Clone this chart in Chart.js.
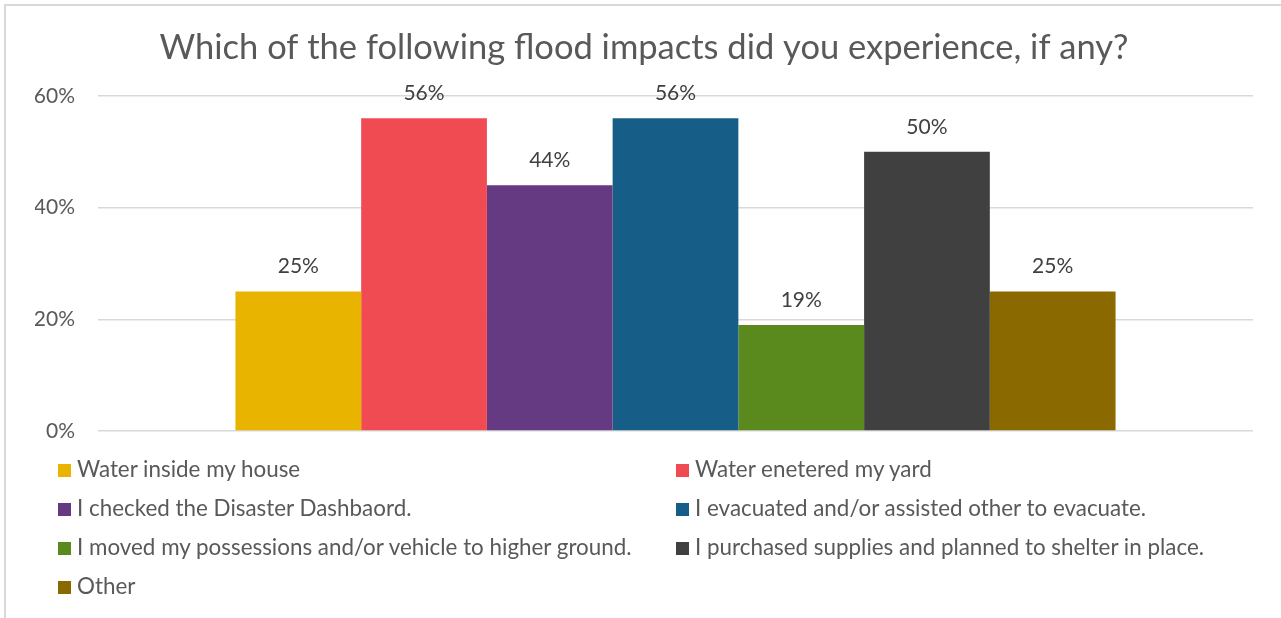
<!DOCTYPE html>
<html>
<head>
<meta charset="utf-8">
<script src="https://cdn.jsdelivr.net/npm/chart.js@4/dist/chart.umd.min.js"></script>
<style>
  html, body { margin: 0; padding: 0; background: #fff; }
  #wrap { position: relative; width: 1281px; height: 618px; overflow: hidden; }
  #frame { position: absolute; left: 4px; top: 4px; width: 1290px; height: 630px;
           border: 2px solid #d9d9d9; box-sizing: border-box; }
  #chart { position: absolute; left: 0; top: 0; }
  .legend { position: absolute; left: 0; top: 0; font-family: Lato, sans-serif;
            font-size: 22.4px; color: #595959; }
  .legend .item { position: absolute; white-space: nowrap; line-height: 22px; }
  .legend .box { display: inline-block; width: 13px; height: 13px; margin-right: 6px; }
</style>
</head>
<body>
<div id="wrap">
  <div id="frame"></div>
  <canvas id="chart" width="1281" height="618"></canvas>
  <div class="legend" id="legend"></div>
</div>
<script>
const chartTitle = "Which of the following flood impacts did you experience, if any?";

const impactLabels = [
    "Water inside my house",
    "Water enetered my yard",
    "I checked the Disaster Dashbaord.",
    "I evacuated and/or assisted other to evacuate.",
    "I moved my possessions and/or vehicle to higher ground.",
    "I purchased supplies and planned to shelter in place.",
    "Other"
];

const impactValues = [25, 56, 44, 56, 19, 50, 25];

const impactColors = ["#e8b400", "#f04b52", "#663a82", "#165e88", "#5a8a1e", "#404040", "#8a6a00"];

const yTicks = [0, 20, 40, 60];

// value labels above each bar
const valueLabels = {
    id: 'valueLabels',
    afterDatasetsDraw(chart) {
        const ctx = chart.ctx;
        ctx.save();
        ctx.font = "21px Lato, sans-serif";
        ctx.fillStyle = "#404040";
        ctx.textAlign = "center";
        ctx.textBaseline = "alphabetic";
        chart.data.datasets.forEach((ds, i) => {
            const bar = chart.getDatasetMeta(i).data[0];
            ctx.fillText(ds.data[0] + "%", bar.x, bar.y - 18);
        });
        ctx.restore();
    }
};

const ctx = document.getElementById('chart');
new Chart(ctx, {
    type: 'bar',
    data: {
        labels: [""],
        datasets: impactLabels.map((label, i) => ({
            label: label,
            data: [impactValues[i]],
            backgroundColor: impactColors[i],
            borderWidth: 0
        }))
    },
    options: {
        responsive: false,
        animation: false,
        categoryPercentage: 0.762,
        barPercentage: 1,
        layout: { padding: { left: 35, right: 28, top: 4, bottom: 179 } },
        plugins: {
            legend: { display: false },
            tooltip: { enabled: false },
            title: {
                display: true,
                text: chartTitle,
                color: "#595959",
                font: { family: "Lato, sans-serif", size: 34.5, weight: 'normal', lineHeight: 1.2 },
                padding: { top: 23, bottom: 27.6 }
            }
        },
        scales: {
            x: {
                ticks: { display: false },
                grid: { display: false },
                border: { display: false }
            },
            y: {
                min: 0,
                max: 60,
                afterFit(scale) { scale.width = 63; },
                afterBuildTicks(scale) { scale.ticks = yTicks.map(v => ({ value: v })); },
                ticks: {
                    padding: 23,
                    color: "#595959",
                    font: { family: "Lato, sans-serif", size: 21 },
                    callback: v => v + "%"
                },
                grid: { color: "#d9d9d9", lineWidth: 1.5, drawTicks: false },
                border: { display: false }
            }
        }
    },
    plugins: [valueLabels]
});

// two-column legend under the plot
const legendEl = document.getElementById('legend');
impactLabels.forEach((label, i) => {
    const item = document.createElement('div');
    item.className = 'item';
    item.style.left = (i % 2 === 0 ? 58 : 676) + 'px';
    item.style.top = (458 + Math.floor(i / 2) * 39) + 'px';
    item.innerHTML = '<span class="box" style="background:' + impactColors[i] + '"></span>' + label;
    legendEl.appendChild(item);
});
</script>
</body>
</html>
